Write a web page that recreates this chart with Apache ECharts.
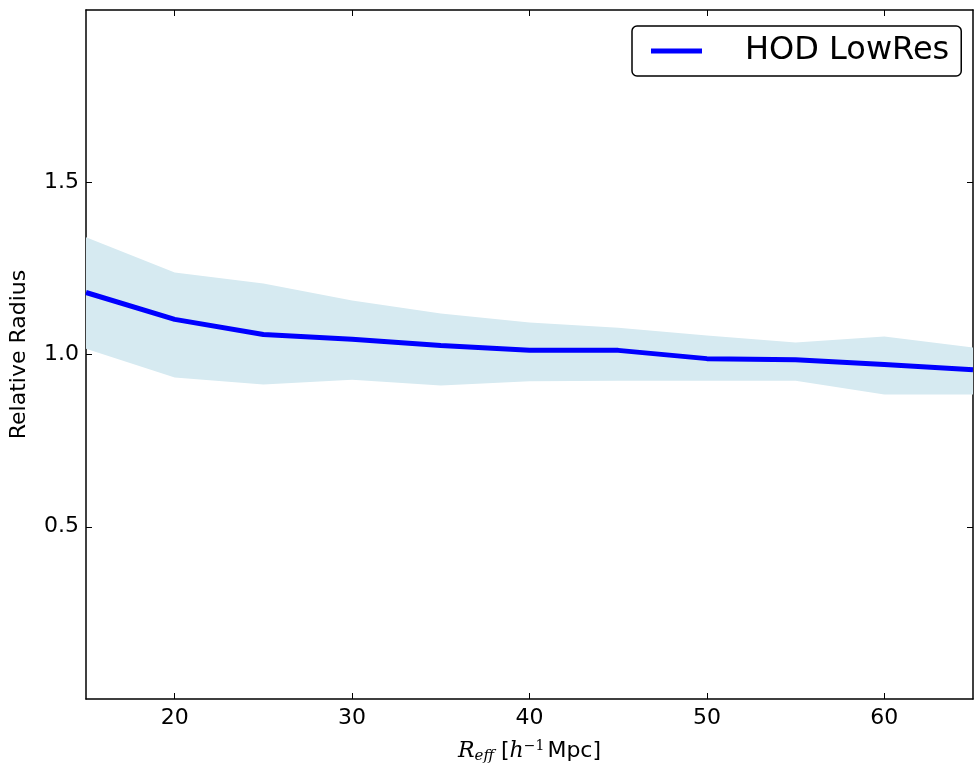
<!DOCTYPE html>
<html>
<head>
<meta charset="utf-8">
<script src="https://cdn.jsdelivr.net/npm/echarts@6/dist/echarts.min.js"></script>
<style>html,body{margin:0;padding:0;background:#fff;}#c{width:974px;height:769px;}</style>
</head>
<body>
<div id="c"></div>
<script>
const xValues = [15, 20, 25, 30, 35, 40, 45, 50, 55, 60, 65];
const meanRadius = [1.180, 1.102, 1.058, 1.044, 1.026, 1.012, 1.012, 0.988, 0.985, 0.971, 0.956];
const upperBand = [1.340, 1.238, 1.206, 1.157, 1.119, 1.093, 1.078, 1.055, 1.035, 1.052, 1.020];
const lowerBand = [1.017, 0.933, 0.913, 0.927, 0.910, 0.922, 0.924, 0.924, 0.924, 0.884, 0.884];
const xTicks = [20, 30, 40, 50, 60];
const yTicks = [0.5, 1.0, 1.5];
const seriesName = 'HOD LowRes';

const FONT = 'DejaVu Sans';
const bandPts = xValues.map((x, i) => [x, lowerBand[i], upperBand[i]]);
const linePts = xValues.map((x, i) => [x, meanRadius[i]]);

const axisLine = { show: true, onZero: false, lineStyle: { color: '#000', width: 1.5 } };
const tick = (vals) => ({ show: true, inside: true, length: 6, lineStyle: { color: '#000', width: 1 }, customValues: vals });

const chart = echarts.init(document.getElementById('c'), null, { renderer: 'canvas' });
chart.setOption({
  animation: false,
  backgroundColor: '#fff',
  grid: { left: 85, right: 1, top: 10, bottom: 69, containLabel: false },
  legend: {
    data: [seriesName],
    left: 632, top: 26,
    icon: 'rect', itemWidth: 51, itemHeight: 5,
    backgroundColor: '#fff', borderColor: '#000', borderWidth: 1.5, borderRadius: 5,
    padding: [7, 12, 7, 19],
    textStyle: { fontFamily: FONT, fontSize: 32, color: '#000', padding: [0, 0, 0, 38], lineHeight: 36 }
  },
  xAxis: [
    {
      type: 'value', min: 15, max: 65, position: 'bottom',
      axisLine: axisLine, axisTick: tick(xTicks), splitLine: { show: false },
      axisLabel: { customValues: xTicks, fontFamily: FONT, fontSize: 22, color: '#000', margin: 8 },
      name: '{it|R}{sub|eff}{n| [}{it|h}{sup|−1}{n|Mpc]}',
      nameLocation: 'middle', nameGap: 40,
      nameTextStyle: {
        rich: {
          it: { fontFamily: 'DejaVu Serif', fontStyle: 'italic', fontSize: 22, color: '#000' },
          sub: { fontFamily: 'DejaVu Serif', fontStyle: 'italic', fontSize: 15, color: '#000', padding: [10, 0, 0, 0] },
          sup: { fontFamily: 'DejaVu Serif', fontSize: 14, color: '#000', padding: [0, 3, 10, 0] },
          n: { fontFamily: FONT, fontSize: 22, color: '#000' }
        }
      }
    },
    {
      type: 'value', min: 15, max: 65, position: 'top',
      axisLine: axisLine, axisTick: tick(xTicks), axisLabel: { show: false }, splitLine: { show: false }
    }
  ],
  yAxis: [
    {
      type: 'value', min: 0, max: 2, position: 'left',
      axisLine: axisLine, axisTick: tick(yTicks), splitLine: { show: false },
      axisLabel: { customValues: yTicks, fontFamily: FONT, fontSize: 22, color: '#000', margin: 7,
        formatter: v => v.toFixed(1) },
      name: 'Relative Radius', nameLocation: 'middle', nameGap: 56, nameRotate: 90,
      nameTextStyle: { fontFamily: FONT, fontSize: 22, color: '#000' }
    },
    {
      type: 'value', min: 0, max: 2, position: 'right',
      axisLine: axisLine, axisTick: tick(yTicks), axisLabel: { show: false }, splitLine: { show: false }
    }
  ],
  series: [
    {
      name: 'band', type: 'custom', data: bandPts, silent: true, z: 1,
      encode: { x: 0, y: [1, 2] },
      renderItem: function (params, api) {
        if (params.dataIndex !== 0) return null;
        const up = [], lo = [];
        for (let i = 0; i < bandPts.length; i++) {
          up.push(api.coord([bandPts[i][0], bandPts[i][2]]));
          lo.push(api.coord([bandPts[i][0], bandPts[i][1]]));
        }
        const pts = up.concat(lo.reverse());
        return { type: 'polygon', shape: { points: pts }, style: { fill: '#d6eaf1' } };
      }
    },
    {
      name: seriesName, type: 'line', data: linePts, symbol: 'none',
      lineStyle: { color: '#0000ff', width: 5 }, itemStyle: { color: '#0000ff' }, z: 3
    }
  ]
});
</script>
</body>
</html>
